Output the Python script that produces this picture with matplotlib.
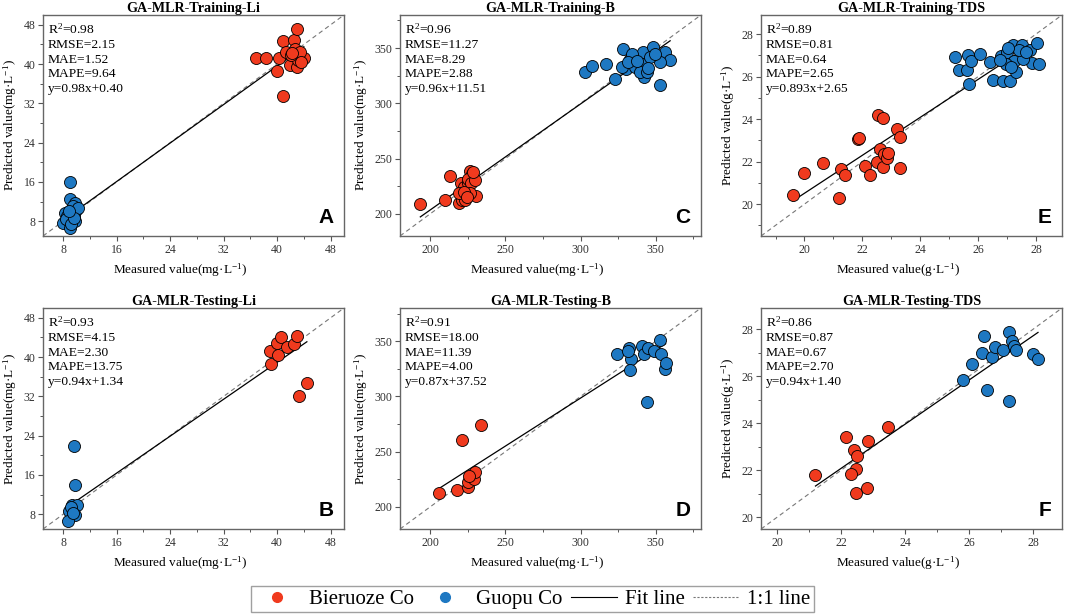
import matplotlib.pyplot as plt
from matplotlib.lines import Line2D
from matplotlib.ticker import MultipleLocator

plt.rcParams['font.family'] = ['Liberation Serif', 'DejaVu Serif']
plt.rcParams['mathtext.fontset'] = 'custom'
plt.rcParams['mathtext.rm'] = 'Liberation Serif'
plt.rcParams['mathtext.it'] = 'Liberation Serif:italic'

RED = '#F03A1E'
BLUE = '#1E78C2'

# ---- Training Li (A)
trLi_bie_x = [36.8, 38.3, 40.3, 40.9, 42.5, 43.0, 41.3, 42.7, 43.1, 44.0, 41.9, 42.9, 43.1, 40.0, 40.9, 42.1, 43.4, 42.3, 43.6]
trLi_bie_y = [41.3, 41.3, 41.3, 44.6, 45.0, 47.1, 42.5, 43.0, 41.8, 41.3, 39.9, 39.4, 40.8, 38.5, 33.5, 41.8, 42.5, 42.2, 40.5]
trLi_guo_x = [9.0, 9.0, 9.8, 8.3, 9.4, 10.0, 9.6, 8.0, 8.8, 9.8, 9.1, 8.6, 9.5, 10.2, 8.4, 9.2, 9.7, 8.9]
trLi_guo_y = [15.9, 12.5, 11.8, 9.7, 10.4, 10.2, 9.1, 7.7, 8.2, 8.0, 6.6, 9.0, 11.2, 10.8, 8.4, 7.5, 8.6, 10.0]

# ---- Training B (C)
trB_bie_x = [193.5, 210, 213, 219, 221.5, 223.5, 220.5, 222.5, 225, 226.5, 228, 225.5, 227, 229.5, 230.5, 226.5, 219.5, 222.5, 224.5, 228.5]
trB_bie_y = [209, 212.5, 234.5, 209.5, 213, 212.5, 227.5, 224.5, 227.5, 239, 236, 232, 228, 230.5, 216, 219, 218.5, 220, 215.5, 237.5]
trB_guo_x = [303, 307.5, 317, 328.5, 323, 341.5, 348, 356, 359.5, 352.5, 353, 342, 333, 330.5, 336, 340.5, 346, 339.5, 344, 334, 349.5, 327.5, 331.5, 337.5, 345]
trB_guo_y = [328.5, 334, 336, 349, 322.5, 346.5, 351, 346.5, 339, 337.5, 316.5, 323.5, 340.5, 331, 333, 336, 342, 328.5, 328.5, 345, 345, 333, 337, 338, 332]

# ---- Training TDS (E)
trT_bie_x = [19.6, 20.0, 20.65, 21.2, 21.25, 21.4, 21.85, 21.9, 22.1, 22.25, 22.55, 22.7, 22.6, 22.5, 22.7, 22.75, 22.85, 22.9, 23.2, 23.3, 23.3]
trT_bie_y = [20.45, 21.45, 21.95, 20.3, 21.65, 21.35, 23.05, 23.1, 21.8, 21.35, 24.2, 24.05, 22.6, 22.0, 21.75, 22.35, 22.15, 22.4, 23.55, 23.15, 21.7]
trT_guo_x = [25.2, 25.35, 25.6, 25.65, 25.75, 25.7, 26.05, 26.4, 26.5, 26.85, 27.1, 27.3, 26.8, 27.0, 27.2, 27.5, 27.8, 28.05, 27.85, 28.1, 27.25, 27.55, 26.95, 26.75, 27.4, 27.65, 27.15, 27.05]
trT_guo_y = [26.9, 26.3, 26.3, 27.0, 26.75, 25.65, 27.05, 26.7, 25.85, 25.8, 25.8, 26.2, 26.95, 27.15, 27.5, 27.5, 27.25, 27.6, 26.65, 26.6, 26.75, 26.85, 26.6, 26.8, 27.25, 27.15, 26.45, 27.35]

# ---- Testing Li (B)
teLi_bie_x = [38.9, 39.05, 40.15, 40.05, 40.55, 41.5, 42.5, 42.9, 44.45, 43.25]
teLi_bie_y = [41.15, 38.65, 40.45, 42.9, 44.05, 42.0, 42.7, 44.25, 34.75, 32.05]
teLi_guo_x = [9.6, 9.85, 9.35, 10.1, 8.85, 9.75, 8.75, 9.2, 9.5]
teLi_guo_y = [22.0, 14.0, 9.9, 9.9, 8.75, 7.85, 6.7, 9.4, 8.3]

# ---- Testing B (D)
teB_bie_x = [206, 218, 221, 233.5, 225.5, 225, 229, 229.5, 226]
teB_bie_y = [213, 215, 261, 274, 218, 222.5, 225.5, 232, 228]
teB_guo_x = [324, 332, 333.5, 333, 340.5, 342, 345, 349, 352.5, 353.5, 356, 356.5, 344, 331.5]
teB_guo_y = [338.5, 343.5, 334, 324, 345.5, 338.5, 343.5, 341.5, 351, 338.5, 325, 330, 295, 341]

# ---- Testing TDS (F)
teT_bie_x = [21.2, 22.15, 22.4, 22.5, 22.45, 22.3, 22.45, 22.8, 22.85, 23.45]
teT_bie_y = [21.8, 23.4, 22.85, 22.6, 22.05, 21.85, 21.05, 21.25, 23.25, 23.85]
teT_guo_x = [25.8, 26.1, 26.4, 26.45, 26.55, 26.7, 26.8, 27.05, 27.25, 27.35, 27.4, 27.45, 27.25, 28.0, 28.15]
teT_guo_y = [25.85, 26.5, 27.0, 27.7, 25.4, 26.8, 27.25, 27.1, 27.9, 27.5, 27.3, 27.1, 24.95, 26.95, 26.75]

titles = ['GA-MLR-Training-Li', 'GA-MLR-Training-B', 'GA-MLR-Training-TDS',
          'GA-MLR-Testing-Li', 'GA-MLR-Testing-B', 'GA-MLR-Testing-TDS']
letters = ['A', 'C', 'E', 'B', 'D', 'F']
r2 = ['0.98', '0.96', '0.89', '0.93', '0.91', '0.86']
rmse = ['2.15', '11.27', '0.81', '4.15', '18.00', '0.87']
mae = ['1.52', '8.29', '0.64', '2.30', '11.39', '0.67']
mape = ['9.64', '2.88', '2.65', '13.75', '4.00', '2.70']
slopes = [0.98, 0.96, 0.893, 0.94, 0.87, 0.94]
inters = [0.40, 11.51, 2.65, 1.34, 37.52, 1.40]
eqs = ['y=0.98x+0.40', 'y=0.96x+11.51', 'y=0.893x+2.65', 'y=0.94x+1.34', 'y=0.87x+37.52', 'y=0.94x+1.40']
units = ['mg', 'mg', 'g', 'mg', 'mg', 'g']

lims = [(5, 50), (180, 380), (18.5, 28.9), (5, 50), (180, 380), (19.5, 28.9)]
majors = [8, 50, 2, 8, 50, 2]
ticks0 = [8, 200, 20, 8, 200, 20]

bie = [(trLi_bie_x, trLi_bie_y), (trB_bie_x, trB_bie_y), (trT_bie_x, trT_bie_y),
       (teLi_bie_x, teLi_bie_y), (teB_bie_x, teB_bie_y), (teT_bie_x, teT_bie_y)]
guo = [(trLi_guo_x, trLi_guo_y), (trB_guo_x, trB_guo_y), (trT_guo_x, trT_guo_y),
       (teLi_guo_x, teLi_guo_y), (teB_guo_x, teB_guo_y), (teT_guo_x, teT_guo_y)]

fig = plt.figure(figsize=(10.65, 6.16), dpi=100)
lefts = [0.0404, 0.3756, 0.7146]
bottoms = [0.6169, 0.1412]
w, h = 0.2826, 0.3588

for i in range(6):
    ax = fig.add_axes([lefts[i % 3], bottoms[i // 3], w, h])
    lo, hi = lims[i]
    ax.plot([lo, hi], [lo, hi], ls=(0, (4, 3)), color='#777777', lw=0.8, zorder=1)
    xs = list(bie[i][0]) + list(guo[i][0])
    x0, x1 = min(xs), max(xs)
    ax.plot([x0, x1], [slopes[i] * x0 + inters[i], slopes[i] * x1 + inters[i]],
            color='black', lw=0.9, zorder=2)
    ax.scatter(bie[i][0], bie[i][1], s=75, c=RED, edgecolors='black', linewidths=0.6, zorder=3)
    ax.scatter(guo[i][0], guo[i][1], s=75, c=BLUE, edgecolors='black', linewidths=0.6, zorder=3)
    ax.set_xlim(lo, hi)
    ax.set_ylim(lo, hi)
    t = [ticks0[i] + k * majors[i] for k in range(6) if ticks0[i] + k * majors[i] <= hi]
    ax.set_xticks(t)
    ax.set_yticks(t)
    ax.xaxis.set_minor_locator(MultipleLocator(majors[i] / 2))
    ax.yaxis.set_minor_locator(MultipleLocator(majors[i] / 2))
    ax.tick_params(which='both', direction='out', top=False, right=False,
                   labelsize=8.5, colors='#555555', labelcolor='#333333', pad=2)
    ax.tick_params(which='major', length=3.5, width=0.8)
    ax.tick_params(which='minor', length=2, width=0.7)
    for sp in ax.spines.values():
        sp.set_color('#666666')
        sp.set_linewidth(1.0)
    ax.set_title(titles[i], fontsize=10.2, fontweight='bold', pad=2)
    u = units[i]
    ax.set_xlabel('Measured value(' + u + '·L$^{-1}$)', fontsize=9.5)
    ax.set_ylabel('Predicted value(' + u + '·L$^{-1}$)', fontsize=9.5, labelpad=3)
    ax.xaxis.set_label_coords(0.455, -0.115)
    txt = ('R$^{2}$=' + r2[i] + '\nRMSE=' + rmse[i] + '\nMAE=' + mae[i] +
           '\nMAPE=' + mape[i] + '\n' + eqs[i])
    ax.text(0.015, 0.97, txt, transform=ax.transAxes, ha='left', va='top',
            fontsize=9.7, linespacing=1.3)
    ax.text(0.965, 0.04, letters[i], transform=ax.transAxes, ha='right', va='bottom',
            fontsize=15, fontweight='bold', family=['Liberation Sans', 'DejaVu Sans'])

handles = [
    Line2D([], [], marker='o', ls='none', markerfacecolor=RED, markeredgecolor=RED, markersize=7),
    Line2D([], [], marker='o', ls='none', markerfacecolor=BLUE, markeredgecolor=BLUE, markersize=7),
    Line2D([], [], color='black', lw=0.8),
    Line2D([], [], color='#777777', lw=0.8, ls=(0, (2, 1.5))),
]
fig.legend(handles, ['Bieruoze Co', 'Guopu Co', 'Fit line', '1:1 line'],
           loc='center', bbox_to_anchor=(0.5, 0.027), ncol=4, fontsize=15,
           frameon=True, fancybox=False, edgecolor='#888888', handlelength=2.2,
           handletextpad=0.4, columnspacing=0.4, borderpad=0.15)

fig.savefig('out.png', dpi=100)
